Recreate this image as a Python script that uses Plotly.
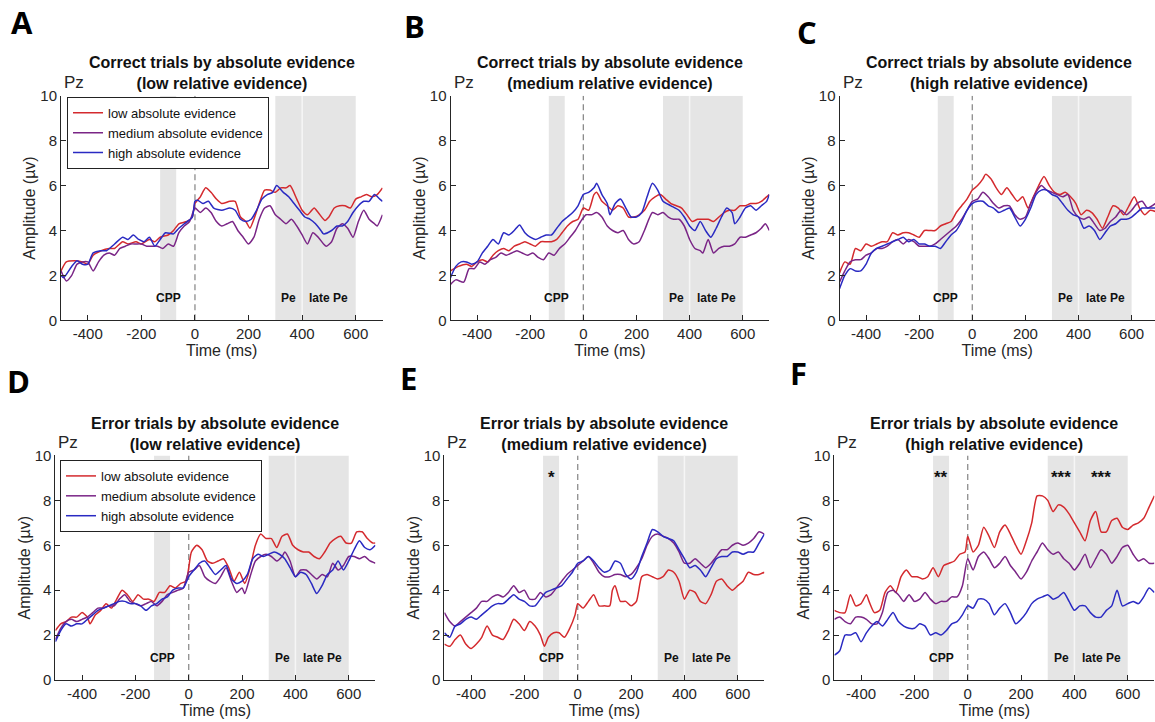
import plotly.graph_objects as go

W, H = 1155, 722

# ---------------- data (time ms, amplitude µV) ----------------
SERIES_NAMES = ["low absolute evidence", "medium absolute evidence", "high absolute evidence"]
COLORS = ["#d42a2e", "#7a2586", "#2a2ac2"]

# Panel A: correct, low relative evidence
A_low = [(-500,2.2),(-480,2.6),(-450,2.65),(-420,2.6),(-400,2.5),(-380,2.9),(-350,3.1),(-320,3.2),(-300,3.2),(-270,3.5),(-250,3.4),(-220,3.5),(-200,3.4),(-170,3.6),(-150,3.5),(-130,3.7),(-100,3.8),(-80,4.0),(-60,4.3),(-30,4.4),(-10,4.6),(0,5.2),(20,5.5),(40,5.9),(60,5.7),(80,5.4),(100,5.2),(130,5.3),(150,5.3),(170,4.6),(190,4.4),(205,4.1),(220,4.5),(240,5.2),(260,5.8),(280,5.8),(300,5.7),(320,5.9),(340,5.9),(355,6.0),(380,5.4),(400,4.9),(420,4.7),(445,5.0),(460,4.8),(485,4.45),(500,4.6),(520,5.0),(540,5.1),(560,5.1),(580,5.0),(600,5.4),(620,5.5),(640,5.6),(660,5.5),(680,5.6),(700,5.9)]
A_med = [(-500,2.2),(-480,1.75),(-460,2.0),(-440,2.5),(-420,2.6),(-400,2.6),(-380,2.2),(-360,2.6),(-340,2.9),(-320,3.0),(-300,2.9),(-280,3.2),(-260,3.3),(-240,3.4),(-220,3.4),(-200,3.4),(-180,3.3),(-160,3.3),(-140,3.3),(-120,3.2),(-100,3.4),(-80,3.3),(-60,3.9),(-40,4.2),(-20,4.4),(0,5.0),(20,4.8),(40,5.0),(60,4.8),(80,4.4),(100,4.2),(120,4.3),(140,4.4),(160,4.0),(180,3.7),(200,3.4),(220,3.7),(240,4.5),(260,5.0),(280,5.1),(300,4.7),(320,4.5),(340,4.3),(360,4.5),(380,4.2),(400,3.8),(420,3.4),(440,3.9),(460,3.7),(480,3.4),(490,3.3),(510,3.5),(530,4.1),(550,4.3),(570,4.1),(590,3.7),(610,4.4),(630,4.9),(650,4.5),(670,4.3),(680,4.2),(700,4.7)]
A_high = [(-500,2.0),(-490,1.9),(-460,2.4),(-440,2.65),(-420,2.5),(-400,2.5),(-380,3.0),(-350,3.1),(-330,3.1),(-300,3.4),(-270,3.7),(-250,3.6),(-230,3.8),(-210,3.6),(-190,3.5),(-170,3.7),(-150,3.3),(-130,3.6),(-110,3.9),(-80,3.85),(-60,4.1),(-40,4.3),(-10,4.6),(0,5.3),(10,5.35),(30,5.2),(50,5.3),(70,5.0),(100,4.9),(130,5.0),(150,4.9),(170,4.5),(190,4.4),(210,4.5),(230,4.9),(250,5.4),(270,5.6),(290,5.7),(305,6.0),(330,5.7),(350,5.5),(370,5.2),(390,4.9),(410,4.6),(430,4.5),(450,4.3),(470,4.0),(480,3.85),(510,4.0),(530,4.2),(550,4.2),(570,4.4),(590,4.8),(610,5.1),(630,5.3),(650,5.3),(670,5.6),(690,5.4),(700,5.3)]

# Panel B: correct, medium relative evidence
B_low = [(-500,2.2),(-470,2.4),(-440,2.5),(-420,2.4),(-400,2.6),(-380,2.7),(-360,2.6),(-340,2.9),(-320,3.1),(-300,3.2),(-280,3.1),(-260,3.3),(-240,3.4),(-220,3.5),(-200,3.4),(-180,3.3),(-160,3.5),(-140,3.5),(-120,3.5),(-100,3.6),(-80,3.9),(-60,4.2),(-40,4.4),(-20,4.5),(0,5.0),(20,4.9),(40,5.6),(50,5.7),(70,5.3),(90,5.1),(110,4.9),(130,5.1),(150,5.0),(170,4.6),(190,4.6),(210,4.7),(230,4.9),(250,5.3),(270,5.5),(290,5.6),(310,5.4),(330,5.2),(350,5.1),(370,5.0),(390,4.7),(410,4.4),(430,4.5),(450,4.5),(470,4.5),(490,4.4),(510,4.6),(530,4.8),(550,4.9),(570,4.9),(590,5.1),(610,5.1),(630,5.2),(650,5.2),(670,5.3),(690,5.5),(700,5.6)]
B_med = [(-500,1.6),(-480,1.8),(-450,1.7),(-430,2.3),(-410,2.3),(-390,2.6),(-370,2.5),(-350,2.7),(-330,2.8),(-310,3.0),(-290,2.9),(-270,3.0),(-250,3.1),(-230,3.0),(-210,2.9),(-190,3.0),(-170,2.8),(-150,2.7),(-130,3.0),(-110,2.9),(-90,3.2),(-70,3.4),(-50,3.7),(-30,4.0),(-10,4.4),(10,4.7),(30,4.7),(50,4.8),(70,4.6),(90,4.2),(110,4.0),(130,3.9),(150,4.0),(170,3.6),(190,3.4),(210,3.5),(230,4.0),(260,4.8),(280,4.7),(300,4.8),(320,4.6),(340,4.5),(360,4.5),(380,4.2),(400,3.6),(420,3.2),(440,3.1),(450,3.0),(470,3.6),(490,3.0),(510,3.2),(530,3.3),(550,3.3),(570,3.4),(590,3.7),(610,3.7),(630,3.8),(650,3.9),(670,4.1),(685,4.3),(700,4.0)]
B_high = [(-500,1.9),(-480,2.4),(-460,2.6),(-440,2.6),(-420,2.5),(-400,2.6),(-380,3.0),(-360,3.3),(-340,3.6),(-320,3.4),(-300,3.9),(-280,3.8),(-260,4.0),(-240,4.25),(-220,3.9),(-200,3.7),(-180,3.6),(-160,3.7),(-140,3.8),(-120,3.8),(-100,4.1),(-80,4.4),(-60,4.6),(-40,4.8),(-20,5.1),(0,5.6),(20,5.7),(40,5.9),(50,6.1),(70,5.6),(90,5.2),(100,4.7),(120,5.2),(140,5.4),(160,5.0),(180,4.6),(200,4.6),(220,4.8),(240,5.5),(260,6.1),(280,5.8),(300,5.3),(330,5.1),(360,4.9),(380,4.6),(400,4.2),(420,4.0),(440,4.4),(460,4.0),(480,3.7),(500,4.1),(520,4.6),(540,5.0),(560,4.8),(570,4.3),(590,4.6),(610,5.0),(630,5.1),(650,4.9),(670,5.1),(690,5.3),(700,5.6)]

# Panel C: correct, high relative evidence
C_low = [(-500,2.1),(-480,2.6),(-460,2.5),(-440,3.2),(-420,3.1),(-400,3.4),(-380,3.3),(-360,3.4),(-340,3.5),(-320,3.5),(-300,3.9),(-280,3.8),(-260,3.9),(-240,3.9),(-220,3.8),(-200,3.7),(-180,4.0),(-160,4.0),(-140,4.0),(-120,4.2),(-100,4.3),(-80,4.4),(-60,4.8),(-40,5.1),(-20,5.4),(0,5.8),(20,6.0),(40,6.3),(50,6.5),(70,6.3),(90,5.9),(110,5.6),(130,5.9),(150,5.6),(170,5.3),(190,5.5),(210,5.0),(230,5.5),(250,6.0),(270,6.4),(290,6.0),(310,5.7),(330,5.6),(350,5.7),(370,5.5),(390,5.2),(410,4.7),(430,4.9),(450,4.8),(470,4.5),(490,4.1),(510,4.6),(530,5.1),(550,5.0),(570,4.7),(590,5.1),(610,5.5),(630,5.0),(650,4.7),(670,4.9),(700,4.8)]
C_med = [(-500,1.7),(-480,2.2),(-460,2.6),(-440,2.7),(-420,2.7),(-400,2.9),(-380,3.0),(-360,3.2),(-340,3.2),(-320,3.3),(-300,3.5),(-280,3.6),(-260,3.4),(-240,3.6),(-220,3.5),(-200,3.3),(-180,3.3),(-160,3.3),(-140,3.4),(-120,3.6),(-100,3.8),(-80,4.0),(-60,4.2),(-40,4.5),(-20,4.9),(0,5.3),(20,5.4),(40,5.7),(60,5.5),(80,5.2),(100,5.0),(120,5.1),(140,5.1),(160,4.7),(180,4.5),(200,4.6),(220,5.2),(240,5.7),(260,6.0),(280,5.8),(300,5.7),(320,5.6),(340,5.5),(360,5.6),(380,4.9),(400,4.6),(420,4.5),(440,4.6),(460,4.3),(480,4.0),(500,4.1),(520,4.4),(540,4.6),(560,4.9),(580,4.7),(600,4.9),(620,5.2),(640,5.3),(660,5.0),(700,5.3)]
C_high = [(-500,1.4),(-480,2.0),(-460,2.3),(-440,2.2),(-420,2.2),(-400,2.5),(-380,3.0),(-360,3.2),(-340,3.3),(-320,3.4),(-300,3.5),(-280,3.6),(-260,3.7),(-240,3.5),(-220,3.6),(-200,3.4),(-180,3.4),(-160,3.3),(-140,3.3),(-120,3.2),(-100,3.5),(-80,3.8),(-60,4.0),(-40,4.4),(-20,4.9),(0,5.2),(20,5.3),(40,5.3),(60,5.1),(80,5.0),(100,4.8),(120,4.9),(140,5.0),(160,4.6),(180,4.2),(200,4.5),(220,5.0),(240,5.6),(260,5.8),(280,5.8),(300,5.6),(320,5.5),(340,5.2),(360,4.9),(380,4.7),(400,4.6),(420,4.1),(440,4.2),(460,4.0),(480,3.6),(500,3.9),(520,4.2),(540,4.3),(560,4.5),(580,4.5),(600,4.6),(620,4.8),(640,5.0),(660,5.0),(700,5.0)]

# Panel D: error, low relative evidence
D_low = [(-500,2.2),(-480,2.5),(-460,2.6),(-440,2.8),(-420,2.8),(-400,3.0),(-380,2.8),(-370,2.5),(-350,2.9),(-330,3.1),(-310,3.4),(-290,3.2),(-270,3.6),(-250,4.0),(-230,3.8),(-210,3.5),(-190,3.8),(-170,3.6),(-150,3.6),(-130,3.5),(-110,3.9),(-90,3.9),(-70,4.2),(-50,4.1),(-30,4.3),(-10,4.4),(0,5.0),(10,5.7),(30,6.0),(50,5.8),(70,5.3),(90,5.2),(110,5.3),(130,5.4),(150,5.0),(170,4.4),(190,4.8),(210,4.3),(230,5.0),(250,6.0),(270,6.5),(290,6.3),(310,6.3),(330,5.9),(350,6.4),(370,6.5),(390,6.0),(410,5.8),(430,5.7),(450,5.7),(470,5.5),(490,5.4),(510,5.7),(530,6.1),(550,6.3),(570,6.4),(590,6.1),(610,6.1),(630,6.6),(650,6.6),(670,6.3),(690,6.1),(700,6.1)]
D_med = [(-500,1.8),(-480,2.3),(-460,2.6),(-440,2.7),(-420,2.6),(-400,2.7),(-380,2.8),(-360,3.0),(-340,3.2),(-320,3.2),(-300,3.3),(-280,3.3),(-260,3.6),(-240,3.8),(-220,3.5),(-200,3.4),(-180,3.3),(-160,3.4),(-140,3.5),(-120,3.3),(-100,3.5),(-80,3.8),(-60,3.9),(-40,4.0),(-20,4.1),(0,4.8),(20,4.9),(40,5.1),(60,4.6),(80,4.4),(100,4.3),(120,4.6),(140,5.0),(160,4.4),(180,3.9),(200,4.1),(210,3.85),(230,4.6),(250,5.3),(270,5.5),(290,5.6),(310,5.5),(330,5.3),(350,5.5),(360,5.7),(380,5.3),(400,4.6),(420,4.9),(440,4.9),(460,4.7),(480,4.5),(500,4.7),(520,4.6),(540,5.2),(560,4.9),(580,5.1),(600,5.5),(620,5.5),(640,5.4),(660,5.5),(680,5.3),(700,5.2)]
D_high = [(-500,1.7),(-480,2.2),(-460,2.5),(-440,2.4),(-420,2.5),(-400,2.5),(-380,2.7),(-360,2.9),(-340,3.1),(-320,3.2),(-300,3.3),(-280,3.4),(-260,3.5),(-240,3.5),(-220,3.4),(-200,3.4),(-180,3.3),(-160,3.1),(-140,3.3),(-120,3.4),(-100,3.6),(-80,3.7),(-60,4.0),(-40,4.1),(-20,4.1),(0,4.6),(20,4.9),(40,5.2),(60,5.3),(80,5.0),(100,4.7),(120,4.9),(140,5.1),(160,4.5),(180,4.3),(200,4.4),(220,4.7),(240,5.4),(260,5.6),(280,5.5),(300,5.6),(320,5.7),(340,5.6),(360,5.4),(380,5.0),(400,4.6),(420,4.8),(440,4.7),(460,4.3),(480,3.85),(500,4.2),(520,4.7),(540,4.9),(560,5.3),(580,4.9),(600,5.3),(620,5.8),(640,6.2),(660,5.9),(680,5.8),(700,6.0)]

# Panel E: error, medium relative evidence
E_low = [(-500,1.6),(-480,1.5),(-460,1.8),(-440,2.0),(-420,1.6),(-400,1.4),(-380,1.6),(-360,1.9),(-340,2.4),(-320,2.0),(-300,1.9),(-280,1.8),(-260,2.2),(-240,2.7),(-220,2.5),(-200,2.2),(-180,2.6),(-160,2.4),(-140,2.0),(-125,1.5),(-110,1.9),(-90,2.1),(-70,2.1),(-50,1.9),(-30,2.3),(-10,2.9),(0,3.4),(20,3.2),(40,3.5),(60,3.8),(80,3.3),(100,3.3),(120,3.3),(130,4.0),(140,4.2),(160,3.5),(180,3.5),(200,3.3),(220,3.5),(240,4.6),(260,4.7),(280,4.6),(300,4.5),(320,4.6),(340,4.9),(360,4.8),(380,4.4),(400,3.6),(420,4.0),(440,3.9),(460,3.5),(480,3.4),(500,3.8),(520,4.4),(540,4.5),(560,4.2),(580,4.0),(600,4.2),(620,4.4),(640,4.8),(660,4.7),(680,4.7),(700,4.8)]
E_med = [(-500,3.0),(-480,2.6),(-460,2.4),(-440,2.6),(-420,2.8),(-400,3.0),(-380,3.2),(-360,3.5),(-340,3.5),(-320,3.7),(-300,3.8),(-280,3.7),(-260,3.9),(-240,4.2),(-220,3.9),(-200,4.0),(-180,3.6),(-160,3.6),(-140,3.9),(-120,3.7),(-100,3.8),(-80,4.1),(-60,4.4),(-40,4.7),(-20,4.9),(0,5.1),(20,5.3),(40,5.5),(60,5.2),(80,4.8),(100,4.6),(120,4.6),(140,4.7),(160,4.7),(180,4.6),(200,4.7),(220,5.0),(240,5.4),(260,6.0),(280,6.4),(300,6.5),(320,6.4),(340,6.3),(360,6.1),(380,5.7),(400,5.2),(420,5.2),(440,5.4),(460,5.2),(480,5.0),(500,5.2),(520,5.5),(540,5.8),(560,5.8),(580,6.0),(600,6.1),(620,6.0),(640,6.1),(660,6.3),(680,6.6),(700,6.5)]
E_high = [(-500,2.1),(-480,1.9),(-460,2.4),(-440,2.5),(-420,2.7),(-400,2.8),(-380,2.7),(-360,2.9),(-340,3.1),(-320,3.3),(-300,3.4),(-280,3.4),(-260,3.6),(-240,3.8),(-220,3.6),(-200,3.5),(-180,3.3),(-160,3.3),(-140,3.6),(-120,3.9),(-100,4.0),(-80,4.1),(-60,4.2),(-40,4.5),(-20,4.8),(0,5.2),(20,5.3),(40,5.5),(60,5.3),(80,5.0),(100,4.8),(120,4.9),(140,5.3),(160,5.2),(180,4.7),(200,4.5),(220,4.8),(240,5.5),(260,6.1),(280,6.7),(300,6.6),(320,6.4),(340,6.3),(360,6.2),(380,5.8),(400,5.4),(420,5.0),(440,5.1),(460,4.9),(480,4.6),(500,5.0),(520,5.4),(540,5.5),(560,5.5),(580,5.7),(600,5.7),(620,5.6),(640,5.7),(660,5.7),(680,6.1),(700,6.5)]

# Panel F: error, high relative evidence
F_low = [(-500,3.1),(-480,3.0),(-460,3.0),(-440,3.8),(-420,3.3),(-400,3.4),(-380,3.8),(-370,3.5),(-350,3.0),(-330,3.1),(-310,3.9),(-290,4.2),(-270,3.9),(-250,4.6),(-230,4.9),(-210,4.6),(-190,4.6),(-170,4.5),(-150,4.6),(-130,5.0),(-110,4.6),(-90,5.1),(-70,5.2),(-50,5.3),(-30,5.6),(-10,5.7),(0,6.4),(20,5.7),(40,6.0),(60,6.8),(80,6.4),(100,5.9),(120,6.6),(140,6.9),(160,6.5),(180,6.0),(200,5.6),(220,6.2),(240,7.0),(260,8.2),(280,8.2),(300,8.0),(320,7.5),(340,7.8),(360,7.7),(380,7.4),(400,7.0),(420,6.6),(440,6.2),(460,7.1),(480,7.5),(500,6.6),(520,6.6),(540,7.1),(560,7.2),(580,6.8),(600,6.7),(620,6.9),(640,7.0),(660,7.2),(680,7.7),(700,8.2)]
F_med = [(-500,2.7),(-480,2.8),(-460,2.6),(-440,2.5),(-420,2.8),(-400,2.8),(-380,2.7),(-360,2.5),(-340,2.5),(-320,3.0),(-300,3.9),(-280,4.0),(-260,3.8),(-240,3.5),(-220,3.8),(-200,3.5),(-180,3.6),(-160,3.9),(-140,3.6),(-120,3.4),(-100,3.5),(-80,3.5),(-60,3.7),(-40,3.7),(-20,4.2),(0,5.4),(20,4.9),(40,5.5),(60,5.7),(80,5.4),(100,5.0),(120,5.2),(140,5.5),(160,5.1),(180,4.8),(200,4.5),(220,4.8),(240,5.3),(260,5.7),(280,6.1),(300,5.8),(320,5.6),(340,5.7),(360,5.4),(380,5.2),(400,4.9),(420,5.2),(440,5.6),(460,5.0),(480,5.4),(500,5.8),(520,5.6),(540,5.2),(560,5.5),(580,5.9),(600,6.0),(620,5.6),(640,5.3),(660,5.4),(680,5.2),(700,5.2)]
F_high = [(-500,1.1),(-480,1.3),(-460,2.0),(-440,2.0),(-420,2.1),(-400,1.7),(-380,2.1),(-360,2.4),(-340,2.6),(-320,2.4),(-300,2.7),(-280,3.0),(-260,2.6),(-240,2.4),(-220,2.3),(-200,2.3),(-180,2.5),(-160,2.4),(-140,2.0),(-120,2.1),(-100,2.0),(-80,2.2),(-60,2.5),(-40,2.6),(-20,2.9),(0,3.3),(20,3.2),(40,3.6),(60,3.6),(80,3.4),(100,2.9),(120,3.2),(140,3.4),(160,3.0),(180,2.5),(200,2.7),(220,3.0),(240,3.4),(260,3.6),(280,3.7),(300,3.8),(320,3.6),(340,3.7),(360,3.9),(380,3.5),(400,3.1),(420,3.3),(440,3.3),(460,3.0),(480,2.8),(500,2.8),(520,3.1),(540,3.3),(560,4.0),(580,3.3),(600,3.4),(620,3.5),(640,3.4),(660,3.7),(680,4.1),(700,3.9)]

PANEL_LETTERS = ["A", "B", "C", "D", "E", "F"]
TITLES = [
    ("Correct trials by absolute evidence", "(low relative evidence)"),
    ("Correct trials by absolute evidence", "(medium relative evidence)"),
    ("Correct trials by absolute evidence", "(high relative evidence)"),
    ("Error trials by absolute evidence", "(low relative evidence)"),
    ("Error trials by absolute evidence", "(medium relative evidence)"),
    ("Error trials by absolute evidence", "(high relative evidence)"),
]
X_TICKS = [-400, -200, 0, 200, 400, 600]
X_TICK_TEXT = ["-400", "-200", "0", "200", "400", "600"]
Y_TICKS = [0, 2, 4, 6, 8, 10]
WINDOW_LABELS = [("CPP", -100), ("Pe", 350), ("late Pe", 500)]
# significance markers: (panel index, x ms, text)
STARS = [(4, -100, "*"), (5, -100, "**"), (5, 350, "***"), (5, 500, "***")]

PANEL_DATA = [
    (A_low, A_med, A_high), (B_low, B_med, B_high), (C_low, C_med, C_high),
    (D_low, D_med, D_high), (E_low, E_med, E_high), (F_low, F_med, F_high),
]

# ---------------- layout geometry (target screen pixels) ----------------
# (x0, x1, y_top, y_bottom, xmax_visible)
BOXES = [
    (61, 382.5, 95, 320, 700),
    (450.5, 769.3, 95, 320, 700),
    (839.5, 1155, 95, 320, 688),
    (55.4, 375.4, 455.5, 680.5, 700),
    (444.4, 764.4, 455.5, 680.5, 700),
    (834.4, 1154.4, 455.5, 680.5, 700),
]
LETTER_POS = [(22, 25), (414, 29), (807, 35), (18, 385), (408, 382), (798, 377)]
TITLE_Y = [72.5, 72.5, 72.5, 434, 434, 434]
PZ_Y = [82, 82, 82, 442, 442, 442]

FONT = "Liberation Sans, Arial, sans-serif"
AX_COL = "#262626"

# vertical calibration of the rendered page (observed = 0.9787*set + 8)
def vy(target):
    return (target - 8.0) / 0.9787

def px_x(x):
    return x / W

def px_y(y):
    return 1 - vy(y) / H

fig = go.Figure()
layout = dict(
    width=W, height=H, margin=dict(l=0, r=0, t=0, b=0, pad=0), autosize=False,
    paper_bgcolor="white", plot_bgcolor="rgba(0,0,0,0)",
    font=dict(family=FONT, color=AX_COL), showlegend=True,
)
shapes = []
annotations = []

for i, (box, series) in enumerate(zip(BOXES, PANEL_DATA)):
    x0, x1, yt, yb, xmax = box
    n = "" if i == 0 else str(i + 1)
    xa, ya = "x" + n, "y" + n
    layout["xaxis" + n] = dict(
        domain=[px_x(x0), min(1.0, px_x(x1))], anchor=ya, range=[-500, xmax],
        tickmode="array", tickvals=X_TICKS, ticktext=X_TICK_TEXT, ticks="inside", ticklen=5, tickwidth=1,
        tickcolor=AX_COL, showline=True, linecolor=AX_COL, linewidth=1, showgrid=False,
        zeroline=False, tickfont=dict(size=15, color=AX_COL, family=FONT),
        title=dict(text="Time (ms)", font=dict(size=16, color=AX_COL, family=FONT), standoff=2),
    )
    layout["yaxis" + n] = dict(
        domain=[px_y(yb), px_y(yt)], anchor=xa, range=[0, 10],
        tickmode="array", tickvals=Y_TICKS, ticks="inside", ticklen=5, tickwidth=1,
        tickcolor=AX_COL, showline=True, linecolor=AX_COL, linewidth=1, showgrid=False,
        zeroline=False, tickfont=dict(size=15, color=AX_COL, family=FONT),
        title=dict(text="Amplitude (µv)", font=dict(size=16, color=AX_COL, family=FONT), standoff=0),
    )
    # shaded windows
    for (a, b) in [(-130, -70), (300, 400), (400, 600)]:
        shapes.append(dict(type="rect", xref=xa, yref=ya, x0=a, x1=b, y0=0, y1=10,
                           fillcolor="#e5e5e5", line=dict(width=0), layer="below"))
    shapes.append(dict(type="line", xref=xa, yref=ya, x0=400, x1=400, y0=0, y1=10,
                       line=dict(color="#f6f6f6", width=1.5), layer="below"))
    shapes.append(dict(type="line", xref=xa, yref=ya, x0=0, x1=0, y0=0, y1=10,
                       line=dict(color="#8c8c8c", width=1.3, dash="6px,4px"), layer="below"))
    for txt, xm in WINDOW_LABELS:
        annotations.append(dict(xref=xa, yref=ya, x=xm, y=1.0, text="<b>" + txt + "</b>",
                                showarrow=False, font=dict(size=12, color="#111111", family=FONT)))
    # title
    t1, t2 = TITLES[i]
    cx = (x0 + x1) / 2 if i != 2 else (x0 + 1158) / 2
    annotations.append(dict(xref="paper", yref="paper", x=px_x(cx),
                            y=px_y(TITLE_Y[i]), text="<b>" + t1 + "</b><br><b>" + t2 + "</b>",
                            showarrow=False, yanchor="middle", xanchor="center",
                            font=dict(size=16, color="#111111", family=FONT)))
    annotations.append(dict(xref="paper", yref="paper", x=px_x(x0 + 1), y=px_y(PZ_Y[i]),
                            text="Pz", showarrow=False, xanchor="left", yanchor="middle",
                            font=dict(size=17, color=AX_COL, family=FONT)))
    lx, ly = LETTER_POS[i]
    annotations.append(dict(xref="paper", yref="paper", x=px_x(lx), y=px_y(ly - 4),
                            text="<b>" + PANEL_LETTERS[i] + "</b>", showarrow=False,
                            xanchor="center", yanchor="middle",
                            font=dict(size=31, color="black", family="Open Sans, sans-serif")))
    for k, (pts, name, col) in enumerate(zip(series, SERIES_NAMES, COLORS)):
        lg = "legend" if i == 0 else ("legend2" if i == 3 else None)
        tr = dict(x=[p[0] for p in pts], y=[p[1] for p in pts], mode="lines", name=name,
                  line=dict(color=col, width=1.5, shape="spline", smoothing=0.6),
                  xaxis=xa, yaxis=ya, showlegend=lg is not None, cliponaxis=True)
        if lg:
            tr["legend"] = lg
        fig.add_trace(go.Scatter(**tr))

for (pi, xm, txt) in STARS:
    n = "" if pi == 0 else str(pi + 1)
    annotations.append(dict(xref="x" + n, yref="y" + n, x=xm, y=9.0, text="<b>" + txt + "</b>",
                            showarrow=False, font=dict(size=17, color="#111111", family=FONT)))

leg_common = dict(bgcolor="white", bordercolor="#222222", borderwidth=1,
                  font=dict(size=13, color="#111111", family=FONT),
                  xanchor="left", yanchor="top", itemwidth=30, tracegroupgap=0)
layout["legend"] = dict(x=px_x(67), y=px_y(96), **leg_common)
layout["legend2"] = dict(x=px_x(60), y=px_y(460), **leg_common)
layout["shapes"] = shapes
layout["annotations"] = annotations
fig.update_layout(**layout)
fig.write_html(
    "out.html",
    config={"responsive": False, "displayModeBar": False},
    post_script="document.body.style.margin='0';document.body.style.padding='0';"
                "document.documentElement.style.overflow='hidden';",
)
